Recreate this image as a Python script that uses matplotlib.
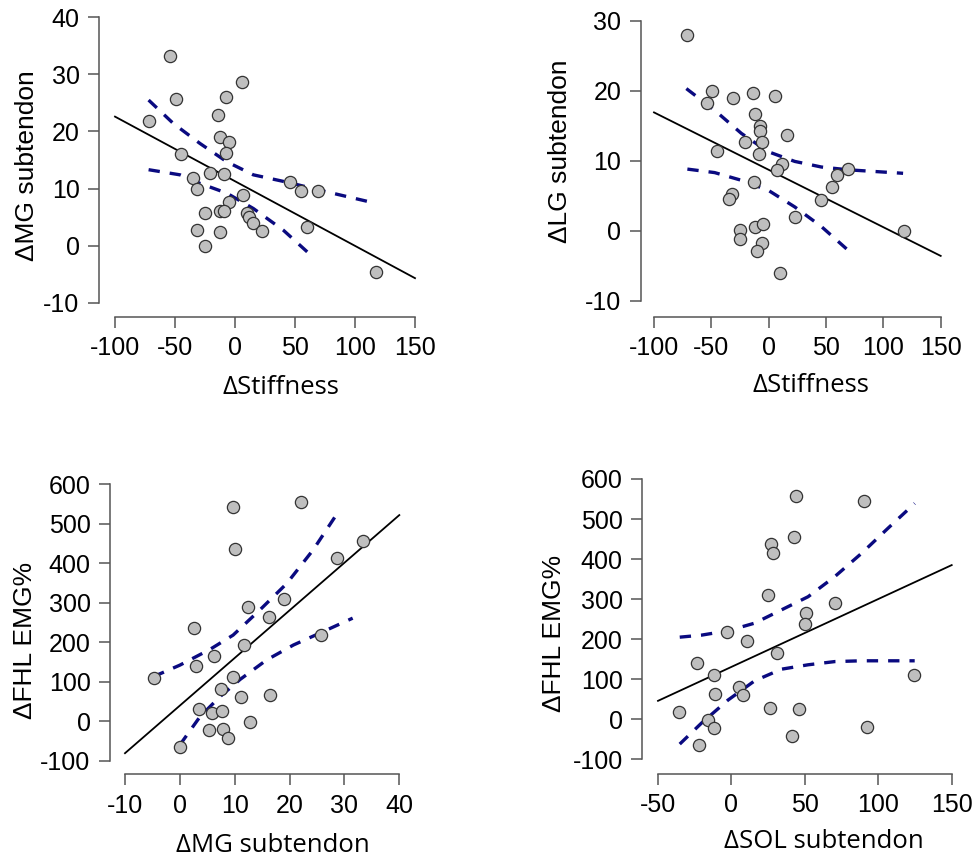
import matplotlib
matplotlib.use("Agg")
import matplotlib.pyplot as plt
import numpy as np

W, H = 976, 861

# ---- panel A: dStiffness vs dMG subtendon
a_x = [-54.2, -49.4, -71.4, -45.3, -35.3, -31.4, -20.8, -25.0, -31.9, -24.7, -13.9, -12.2,
       -7.8, -5.3, -7.5, -9.2, -5.3, -12.5, -9.2, -12.2, 6.1, 6.9, 9.7, 11.7, 15.3, 22.8,
       46.1, 54.7, 68.9, 60.3, 117.5]
a_y = [33.2, 25.7, 21.9, 16.1, 11.8, 10.0, 12.7, 5.8, 2.7, 0.0, 22.8, 19.1,
       26.0, 18.2, 16.3, 12.6, 7.6, 6.0, 6.1, 2.4, 28.6, 8.9, 5.8, 5.1, 3.9, 2.6,
       11.1, 9.5, 9.5, 3.3, -4.7]
a_fit_x = [-100, 150]
a_fit_y = [22.6, -5.7]
a_up_x = [-72, -51.4, -29.2, -6.9, 15.3, 45.8, 70.8, 117.5]
a_up_y = [25.5, 21.4, 17.9, 14.7, 12.4, 11.0, 9.7, 7.4]
a_lo_x = [-72, -45.8, -29.2, -6.9, 15.3, 40.3, 63.9]
a_lo_y = [13.3, 12.4, 10.9, 9.2, 6.5, 2.7, -1.8]

# ---- panel B: dStiffness vs dLG subtendon
b_x = [-71.2, -49.1, -54.1, -31.1, -45.1, -31.7, -34.3, -20.9, -13.4, -11.6, -12.8, -7.8,
       -7.3, -5.5, -8.7, -24.7, -24.7, -12.2, -4.9, -5.8, -9.9, 10.2, 5.8, 15.7, 11.9, 7.0,
       23.3, 45.9, 55.2, 59.9, 69.2, 117.7]
b_y = [28.0, 20.0, 18.2, 19.0, 11.4, 5.3, 4.6, 12.7, 19.7, 16.7, 7.0, 15.0,
       14.3, 12.7, 11.0, 0.1, -1.2, 0.5, 1.0, -1.8, -2.9, -6.0, 19.2, 13.7, 9.5, 8.7,
       2.0, 4.4, 6.3, 8.0, 8.8, 0.0]
b_fit_x = [-100, 150]
b_fit_y = [16.9, -3.6]
b_up_x = [-71.8, -47.1, -23.8, -0.6, 22.7, 45.9, 69.2, 117.2]
b_up_y = [20.3, 17.2, 13.9, 11.3, 9.9, 9.1, 8.7, 8.2]
b_lo_x = [-70.9, -47.1, -23.8, -0.6, 22.7, 45.9, 68.6]
b_lo_y = [8.8, 8.3, 7.2, 5.8, 3.4, 0.6, -2.7]

# ---- panel C: dMG subtendon vs dFHL EMG%
c_x = [9.7, 22.0, 10.0, 33.4, 28.6, 18.9, 12.5, 16.2, 2.5, 25.8, 11.7, 6.3, 2.9,
       -4.8, 9.6, 7.5, 11.1, 16.5, 3.4, 5.9, 7.6, 12.7, 5.3, 7.9, 8.8, 0.0]
c_y = [543, 556, 435, 456, 414, 309, 288, 265, 237, 218, 194, 164, 139,
       110, 111, 82, 61, 66, 30, 20, 25, -2, -22, -19, -42, -65]
c_fit_x = [-10, 40]
c_fit_y = [-81, 522]
c_up_x = [-4.8, 0.0, 5.5, 9.7, 14.6, 19.5, 24.3, 28.3]
c_up_y = [113, 142, 182, 218, 282, 349, 434, 518]
c_lo_x = [0.0, 3.7, 7.3, 11.0, 15.8, 20.7, 25.5, 31.5]
c_lo_y = [-60, 12, 62, 106, 155, 193, 223, 261]

# ---- panel D: dSOL subtendon vs dFHL EMG%
d_x = [44.2, 90.3, 42.6, 27.2, 28.5, 24.9, 70.3, 50.6, 50.3, -3.2, 10.8, 31.0, -23.4,
       -12.1, 124.6, 5.4, 8.1, -11.4, -35.5, -15.9, -11.9, -21.9, 26.5, 46.0, 41.0, 92.3]
d_y = [558, 546, 456, 438, 414, 310, 290, 266, 238, 219, 195, 165, 140,
       110, 110, 81, 60, 64, 19, -2, -23, -64, 29, 25, -42, -20]
d_fit_x = [-50, 150]
d_fit_y = [46, 385]
d_up_x = [-35.2, -20.5, -2.3, 15.8, 34.0, 52.2, 70.3, 88.5, 106.6, 124.8]
d_up_y = [205, 210, 221, 240, 273, 306, 356, 414, 477, 539]
d_lo_x = [-35.2, -20.5, -2.3, 15.8, 34.0, 52.2, 70.3, 88.5, 124.8]
d_lo_y = [-62, -10, 48, 96, 125, 136, 144, 146, 146]

plt.rcParams["font.family"] = ["Liberation Sans", "DejaVu Sans"]

fig = plt.figure(figsize=(W / 100, H / 100), dpi=100)
fig.patch.set_facecolor("white")


def place(xt, yt, xpx, ypx, yaxis_px, xaxis_py):
    kx = (xpx[1] - xpx[0]) / (xt[-1] - xt[0])
    ky = (ypx[0] - ypx[1]) / (yt[-1] - yt[0])
    padx = xpx[0] - yaxis_px
    pady = xaxis_py - ypx[0]
    left, right = yaxis_px, xpx[1] + padx
    top, bottom = ypx[1] - pady, xaxis_py
    ax = fig.add_axes([left / W, 1 - bottom / H, (right - left) / W, (bottom - top) / H])
    ax.set_xlim(xt[0] - padx / kx, xt[-1] + padx / kx)
    ax.set_ylim(yt[0] - pady / ky, yt[-1] + pady / ky)
    ax.set_xticks(xt)
    ax.set_yticks(yt)
    ax.set_xticklabels([f"{v:g}" for v in xt])
    ax.set_yticklabels([f"{v:g}" for v in yt])
    for s in ("top", "right"):
        ax.spines[s].set_visible(False)
    ax.spines["left"].set_bounds(yt[0], yt[-1])
    ax.spines["bottom"].set_bounds(xt[0], xt[-1])
    for s in ("left", "bottom"):
        ax.spines[s].set_color("#555555")
        ax.spines[s].set_linewidth(1.1)
    ax.tick_params(length=8, width=1.1, color="#555555", labelsize=18, pad=6)
    ax.patch.set_alpha(0)
    return ax


def draw(ax, x, y, fx, fy, ux, uy, lx, ly):
    ax.plot(fx, fy, color="black", lw=1.3, zorder=2)
    for bx, by in ((ux, uy), (lx, ly)):
        ax.plot(bx, by, color="#0a0a80", lw=2.4, dashes=(3.4, 3.0), zorder=3)
    ax.plot(x, y, "o", ms=8.8, mfc="#bfbfbf", mec="#333333", mew=0.9,
            zorder=4, clip_on=False)


axA = place(np.arange(-100, 151, 50), np.arange(-10, 41, 10), (115, 415), (302.7, 17.3), 99, 317)
draw(axA, a_x, a_y, a_fit_x, a_fit_y, a_up_x, a_up_y, a_lo_x, a_lo_y)

axB = place(np.arange(-100, 151, 50), np.arange(-10, 31, 10), (654, 940.7), (300.7, 20.7), 640.7, 316.7)
draw(axB, b_x, b_y, b_fit_x, b_fit_y, b_up_x, b_up_y, b_lo_x, b_lo_y)

axC = place(np.arange(-10, 41, 10), np.arange(-100, 601, 100), (125, 399.3), (760.7, 484.3), 110, 774.3)
draw(axC, c_x, c_y, c_fit_x, c_fit_y, c_up_x, c_up_y, c_lo_x, c_lo_y)

axD = place(np.arange(-50, 151, 50), np.arange(-100, 601, 100), (658, 951.7), (759.3, 479), 642.3, 774)
draw(axD, d_x, d_y, d_fit_x, d_fit_y, d_up_x, d_up_y, d_lo_x, d_lo_y)

# axis titles, placed as in the reference (x titles in a humanist face)
xlab = [("\u0394Stiffness", 281, 394), ("\u0394Stiffness", 811, 391.7),
        ("\u0394MG subtendon", 272.5, 852), ("\u0394SOL subtendon", 824, 848)]
for txt, px, py in xlab:
    fig.text(px / W, 1 - py / H, txt, ha="center", va="baseline", fontsize=18.5,
             family=["Open Sans", "DejaVu Sans"])

ylab = [("\u0394MG subtendon", 34, 166), ("\u0394LG subtendon", 567.3, 151.5),
        ("\u0394FHL EMG%", 32.3, 640.5), ("\u0394FHL EMG%", 560.7, 633.5)]
for txt, px, py in ylab:
    fig.text(px / W, 1 - py / H, txt, ha="center", va="baseline", rotation=90,
             rotation_mode="anchor", fontsize=19)

fig.savefig("out.png", dpi=100)
